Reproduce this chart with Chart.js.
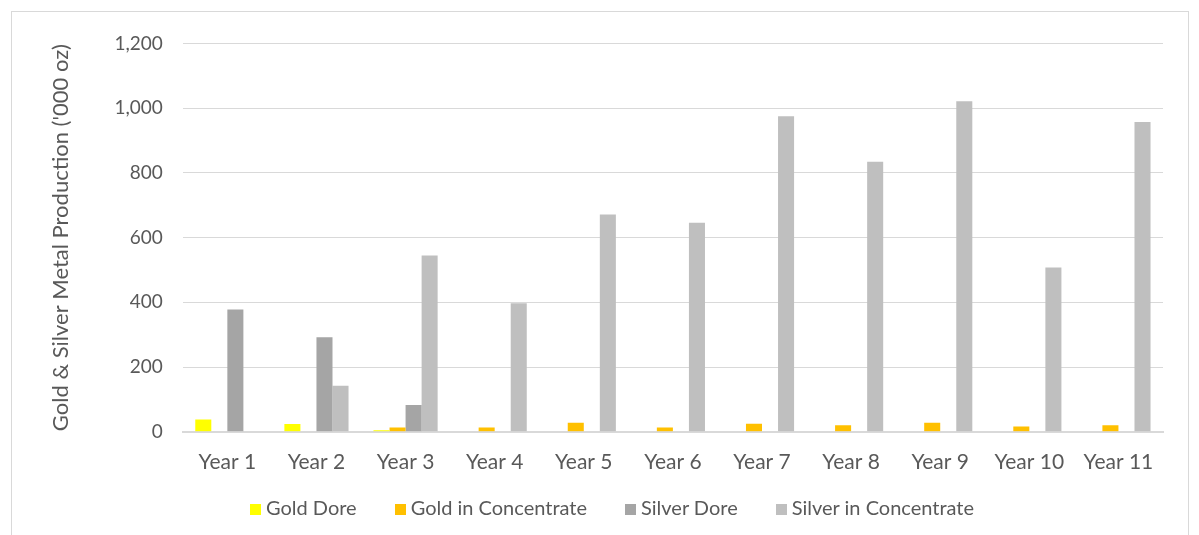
<!DOCTYPE html>
<html>
<head>
<meta charset="utf-8">
<script src="https://cdn.jsdelivr.net/npm/chart.js@4"></script>
<style>
  body{margin:0;background:#fff;}
  #wrap{position:absolute;left:11px;top:11px;width:1178px;height:530px;border:1px solid #d9d9d9;box-sizing:border-box;}
  #legend{position:absolute;left:0;width:1224px;top:494px;display:flex;justify-content:center;gap:38px;
    font-family:Lato,'Open Sans',sans-serif;font-size:20px;color:#595959;line-height:26px;}
  #legend span.box{display:inline-block;width:11px;height:11px;margin-right:5px;vertical-align:0px;}
</style>
</head>
<body>
<div id="wrap"><canvas id="c"></canvas></div>
<div id="legend"></div>
<script>
// categories + series ('000 oz)
const years = ['Year 1','Year 2','Year 3','Year 4','Year 5','Year 6','Year 7','Year 8','Year 9','Year 10','Year 11'];
const goldDore = [38,24,5,0,0,0,0,0,0,0,0];
const goldConc = [0,0,13,13,28,13,25,20,28,16,20];
const silverDore = [378,292,83,0,0,0,0,0,0,0,0];
const silverConc = [0,142,545,397,671,646,975,834,1021,508,957];

const txt = '#595959';
const font = "Lato, 'Open Sans', sans-serif";

function ds(label, data, color){
  return { label, data, backgroundColor:color, borderWidth:0, categoryPercentage:0.72, barPercentage:1.0 };
}

const chart = new Chart(document.getElementById('c'), {
  type:'bar',
  data:{ labels:years, datasets:[
    ds('Gold Dore', goldDore, '#FFFF00'),
    ds('Gold in Concentrate', goldConc, '#FFC000'),
    ds('Silver Dore', silverDore, '#A5A5A5'),
    ds('Silver in Concentrate', silverConc, '#BFBFBF')
  ]},
  options:{
    responsive:true, maintainAspectRatio:false, animation:false,
    layout:{ padding:{ left:32, right:25, top:19, bottom:47 } },
    plugins:{ tooltip:{ enabled:false }, legend:{ display:false } },
    scales:{
      x:{
        grid:{ display:false, drawTicks:false },
        border:{ color:'#d9d9d9', width:2 },
        ticks:{ color:txt, font:{ family:font, size:21 }, padding:18 }
      },
      y:{
        min:0, max:1200,
        grid:{ color:'#d9d9d9', drawTicks:false },
        border:{ display:false },
        ticks:{ stepSize:200, color:txt, font:{ family:font, size:19 }, padding:20,
          callback:v=>v.toLocaleString('en-US') },
        title:{ display:true, text:"Gold & Silver Metal Production ('000 oz)", color:txt,
          font:{ family:font, size:22 }, padding:{ bottom:20 } }
      }
    }
  }
});

// html legend built from the datasets
const leg = document.getElementById('legend');
chart.data.datasets.forEach(d=>{
  const item = document.createElement('div');
  item.innerHTML = '<span class="box" style="background:'+d.backgroundColor+'"></span>'+d.label;
  leg.appendChild(item);
});
</script>
</body>
</html>
